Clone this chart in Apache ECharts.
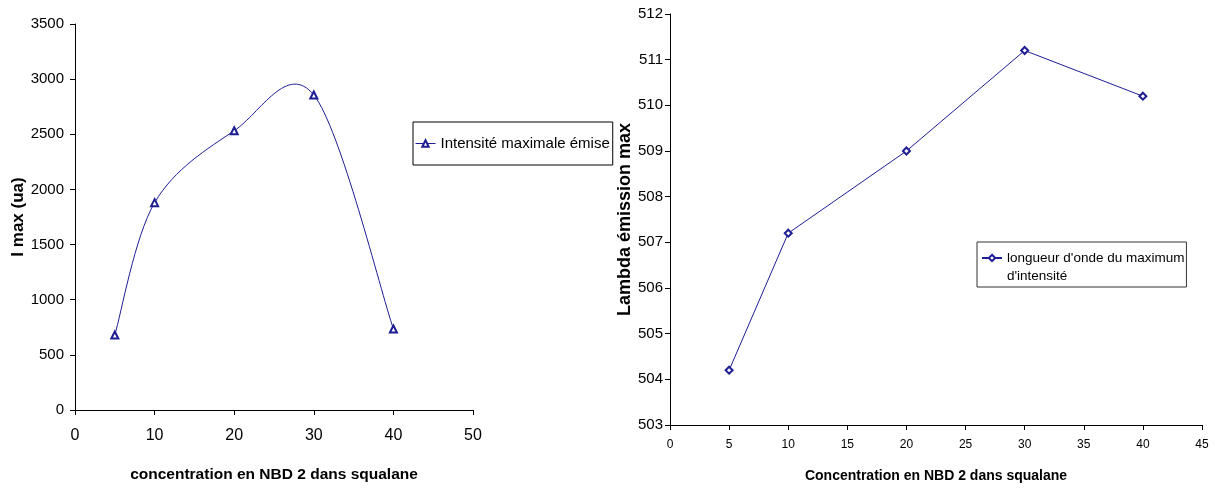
<!DOCTYPE html>
<html>
<head>
<meta charset="utf-8">
<script src="https://cdn.jsdelivr.net/npm/echarts@6/dist/echarts.min.js"></script>
<style>
html,body{margin:0;padding:0;background:#fff;}
#c{width:1215px;height:488px;}
</style>
</head>
<body>
<div id="c"></div>
<script>
// ---- data ----
var concentrations = [5, 10, 20, 30, 40];
var intensityValues = [680, 1880, 2532, 2856, 735];
var lambdaValues = [504.2, 507.2, 509.0, 511.2, 510.2];
var intensityName = 'Intensité maximale émise';
var lambdaName = "longueur d'onde du maximum\nd'intensité";
var leftXTitle = 'concentration en NBD 2 dans squalane';
var leftYTitle = 'I max (ua)';
var rightXTitle = 'Concentration en NBD 2 dans squalane';
var rightYTitle = 'Lambda émission max';

var SANS = '"Liberation Sans", Arial, sans-serif';
var LINE = '#1e1e94';

function pairs(xs, ys){ return xs.map(function(x,i){ return [x, ys[i]]; }); }
function plain(v){ return String(v); }

var axisCommon = {
  axisLine: {show: true, lineStyle: {color: '#000', width: 1}},
  axisTick: {show: true, inside: false, length: 5, lineStyle: {color: '#000'}},
  splitLine: {show: false}
};

// Smoothed curve (Excel-like Catmull-Rom Bezier) through the data points,
// converted to pixels by the chart's own axes (api.coord).
function renderSmooth(params, api) {
  var pts = concentrations.map(function(x, i){ return api.coord([x, intensityValues[i]]); });
  var n = pts.length;
  var d = 'M' + pts[0][0] + ',' + pts[0][1];
  for (var i = 0; i < n - 1; i++) {
    var p0 = pts[Math.max(i - 1, 0)], p1 = pts[i], p2 = pts[i + 1], p3 = pts[Math.min(i + 2, n - 1)];
    var c1x = p1[0] + (p2[0] - p0[0]) / 6, c1y = p1[1] + (p2[1] - p0[1]) / 6;
    var c2x = p2[0] - (p3[0] - p1[0]) / 6, c2y = p2[1] - (p3[1] - p1[1]) / 6;
    d += ' C' + c1x + ',' + c1y + ' ' + c2x + ',' + c2y + ' ' + p2[0] + ',' + p2[1];
  }
  return {
    type: 'path',
    shape: {pathData: d},
    style: {fill: null, stroke: LINE, lineWidth: 1},
    silent: true
  };
}

var chart = echarts.init(document.getElementById('c'), null, {renderer: 'canvas'});
chart.setOption({
  animation: false,
  backgroundColor: '#fff',
  grid: [
    {left: 75, top: 24, width: 398, height: 396, containLabel: false},
    {left: 670, top: 14, width: 532, height: 420, containLabel: false}
  ],
  xAxis: [
    Object.assign({}, axisCommon, {
      gridIndex: 0, type: 'value', min: 0, max: 50, interval: 10,
      name: leftXTitle, nameLocation: 'middle', nameGap: 57,
      nameTextStyle: {fontFamily: SANS, fontWeight: 'bold', fontSize: 15.5, color: '#000'},
      axisLabel: {margin: 18, fontFamily: SANS, fontSize: 16, color: '#000', formatter: plain}
    }),
    Object.assign({}, axisCommon, {
      gridIndex: 1, type: 'value', min: 0, max: 45, interval: 5,
      name: rightXTitle, nameLocation: 'middle', nameGap: 44,
      nameTextStyle: {fontFamily: SANS, fontWeight: 'bold', fontSize: 14, color: '#000'},
      axisLabel: {margin: 14, fontFamily: SANS, fontSize: 12, color: '#000', formatter: plain}
    })
  ],
  yAxis: [
    Object.assign({}, axisCommon, {
      gridIndex: 0, type: 'value', min: 0, max: 3500, interval: 500,
      name: leftYTitle, nameLocation: 'middle', nameGap: 39,
      nameTextStyle: {fontFamily: SANS, fontWeight: 'bold', fontSize: 17, color: '#000'},
      axisLabel: {margin: 11, fontFamily: SANS, fontSize: 15, color: '#000', formatter: plain}
    }),
    Object.assign({}, axisCommon, {
      gridIndex: 1, type: 'value', min: 503, max: 512, interval: 1,
      name: rightYTitle, nameLocation: 'middle', nameGap: 27,
      nameTextStyle: {fontFamily: SANS, fontWeight: 'bold', fontSize: 18, color: '#000'},
      axisLabel: {margin: 7, fontFamily: SANS, fontSize: 15, color: '#000', formatter: plain}
    })
  ],
  legend: [
    {
      data: [intensityName], left: 413, top: 122,
      orient: 'vertical',
      padding: [14, 3, 14, 2],
      itemWidth: 20, itemHeight: 8, itemGap: 0,
      borderColor: '#000', borderWidth: 1,
      lineStyle: {color: LINE, width: 1, opacity: 1},
      textStyle: {fontFamily: SANS, fontSize: 15, color: '#000'},
      selectedMode: false
    },
    {
      data: [lambdaName], left: 977, top: 242,
      orient: 'vertical',
      padding: [-11, 2, 2, 4],
      itemWidth: 20, itemHeight: 8, itemGap: 0,
      borderColor: '#333', borderWidth: 1,
      formatter: function(name){ return '\n' + name; },
      textStyle: {fontFamily: SANS, fontSize: 13.5, lineHeight: 18, color: '#000'},
      selectedMode: false
    }
  ],
  series: [
    {
      name: intensityName, type: 'line', xAxisIndex: 0, yAxisIndex: 0,
      data: pairs(concentrations, intensityValues),
      symbol: 'emptyTriangle', symbolSize: 7,
      lineStyle: {color: LINE, width: 1, opacity: 0},
      itemStyle: {color: LINE, borderColor: LINE, borderWidth: 1},
      z: 3
    },
    {
      type: 'custom', xAxisIndex: 0, yAxisIndex: 0,
      data: [[concentrations[0], intensityValues[0]]],
      renderItem: renderSmooth,
      clip: false,
      z: 2
    },
    {
      name: lambdaName, type: 'line', xAxisIndex: 1, yAxisIndex: 1,
      data: pairs(concentrations, lambdaValues),
      symbol: 'emptyDiamond', symbolSize: 7,
      lineStyle: {color: LINE, width: 1},
      itemStyle: {color: LINE, borderColor: LINE, borderWidth: 1}
    }
  ]
});
</script>
</body>
</html>
